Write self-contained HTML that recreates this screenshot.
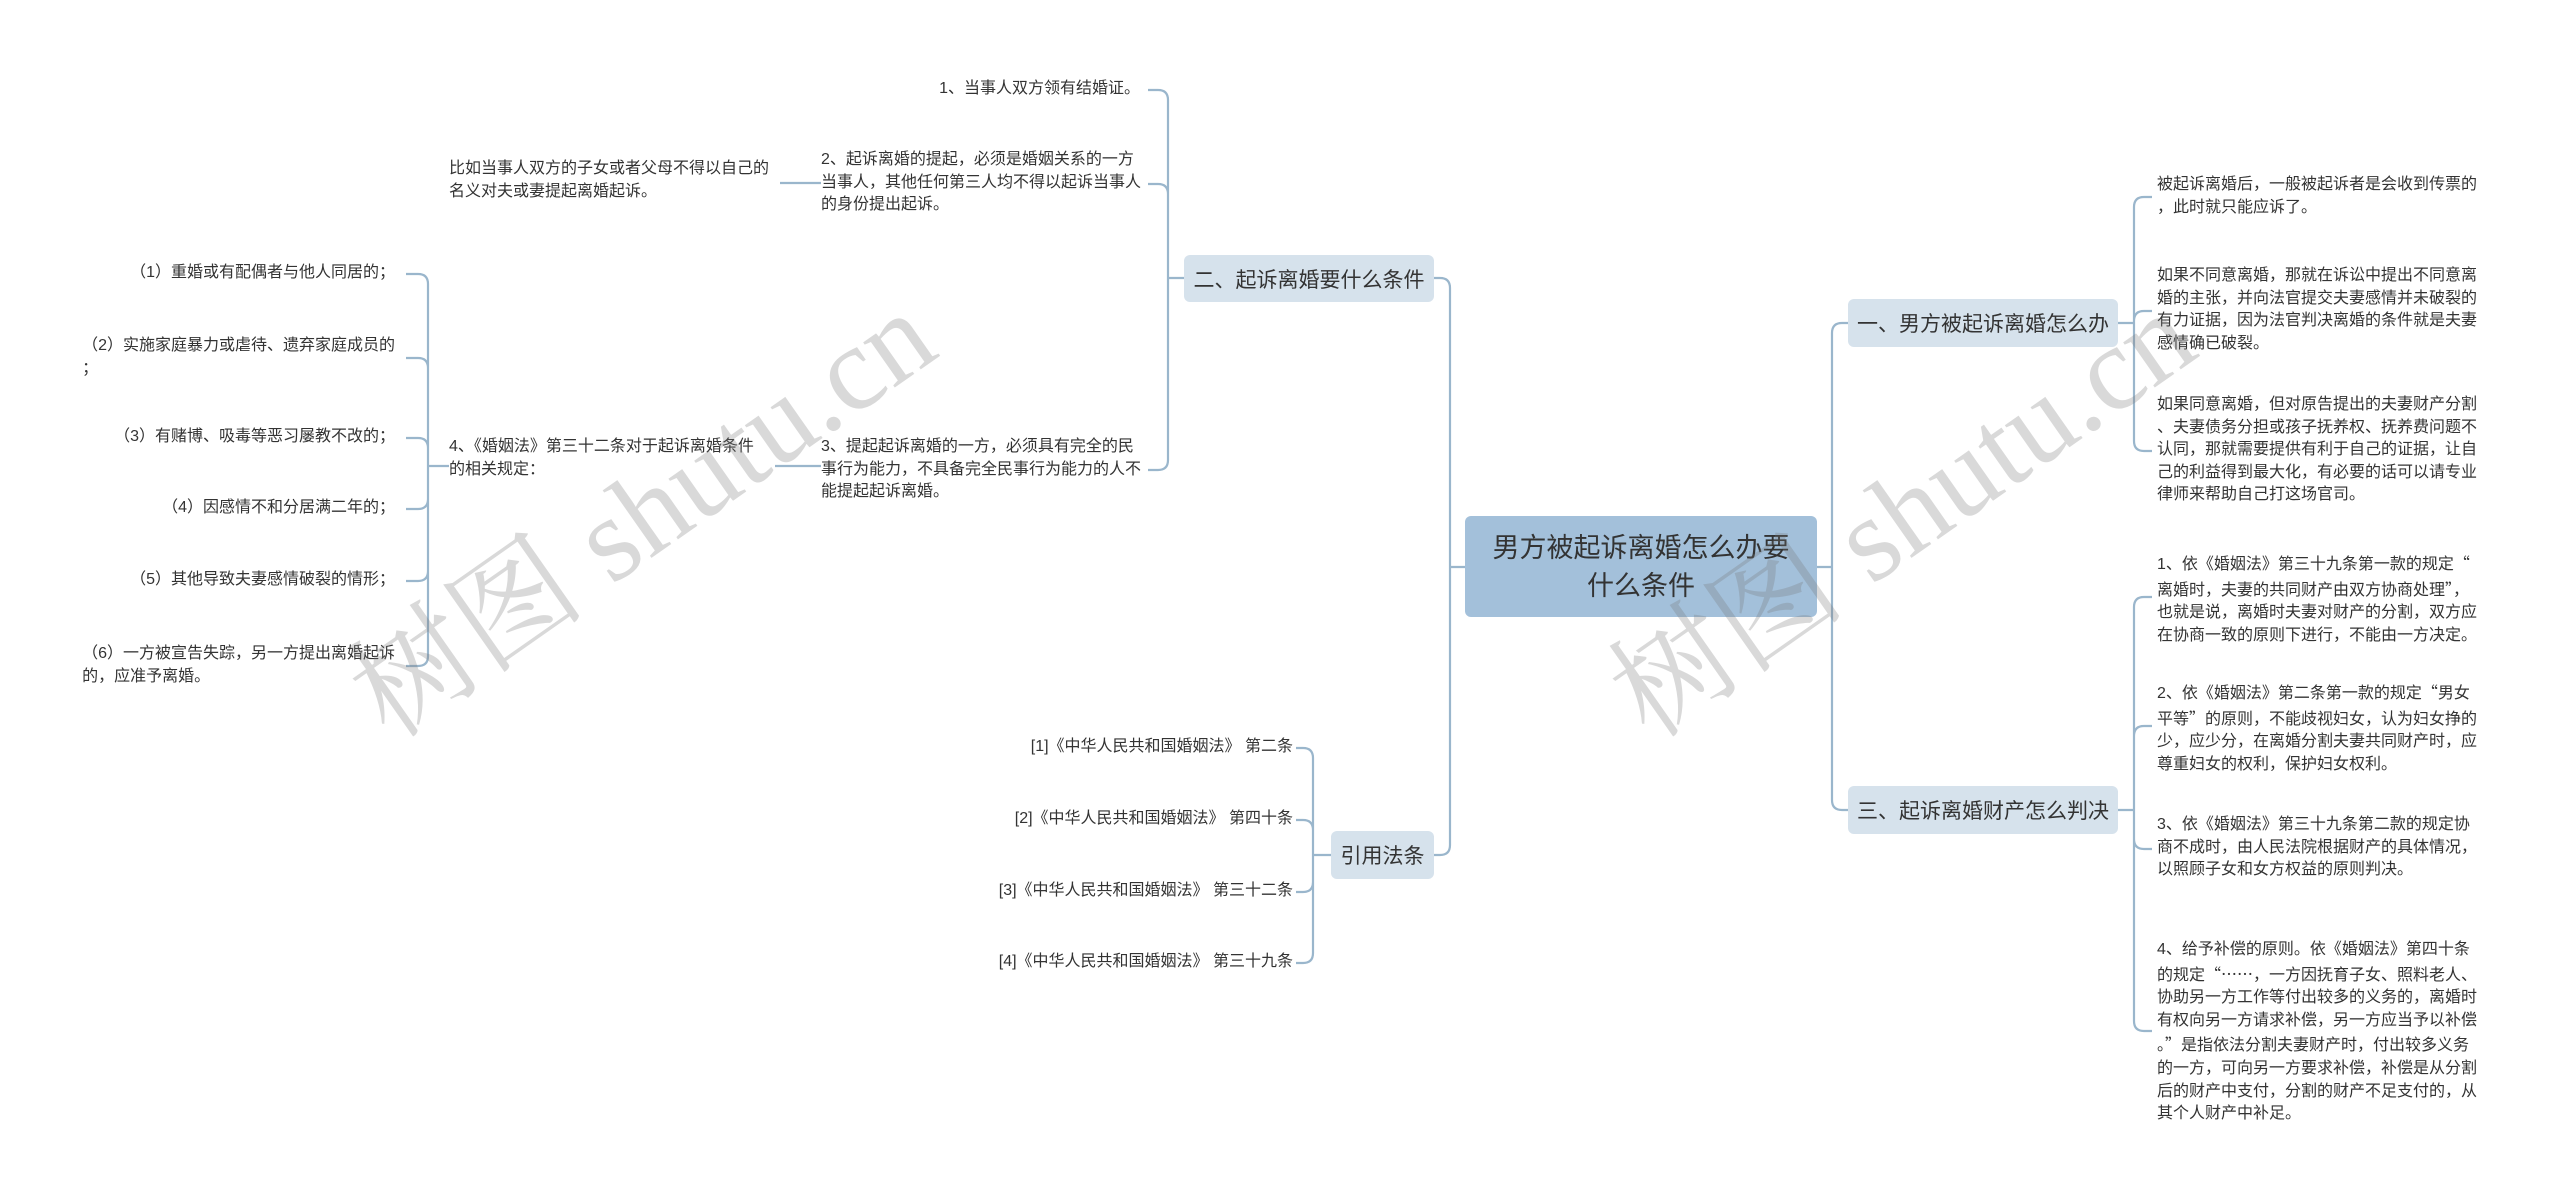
<!DOCTYPE html>
<html><head><meta charset="utf-8">
<style>
html,body{margin:0;padding:0;background:#fff;}
body{width:2560px;height:1184px;position:relative;overflow:hidden;font-family:"Liberation Sans","Noto Sans CJK SC",sans-serif;color:#333;}
.t{position:absolute;font-size:16px;line-height:22.6px;white-space:nowrap;}
.q{font-family:"Noto Sans CJK SC",sans-serif;}
.node{position:absolute;display:flex;align-items:center;justify-content:center;border-radius:6px;background:#d6e2ec;font-size:21px;color:#333;}
.center{background:#a3c0da;font-size:27px;line-height:38px;text-align:center;}
.wm{position:absolute;font-family:"Liberation Serif","Noto Serif CJK SC",serif;font-size:120px;color:rgba(120,120,120,0.28);transform:rotate(-35deg);white-space:nowrap;transform-origin:center;}
svg{position:absolute;left:0;top:0;}
</style></head><body>
<svg width="2560" height="1184" fill="none" stroke="#9ab6cc" stroke-width="2.2">
<path d="M1465,567 H1450 M1450,567 V288 Q1450,278 1440,278 H1434 M1450,567 V845 Q1450,855 1440,855 H1434"/>
<path d="M1817,567 H1832 M1832,567 V333 Q1832,323 1842,323 H1848 M1832,567 V800 Q1832,810 1842,810 H1848"/>
<path d="M1184,278 H1168 M1168,278 V100 Q1168,90 1158,90 H1148 M1168,278 V194 Q1168,184 1158,184 H1148 M1168,278 V460 Q1168,470 1158,470 H1148"/>
<path d="M821,183 H780 M821,466 H775"/>
<path d="M449,466 H428 M428,466 V284 Q428,274 418,274 H406 M428,466 V368 Q428,358 418,358 H406 M428,466 V448 Q428,438 418,438 H406 M428,466 V499 Q428,509 418,509 H406 M428,466 V571 Q428,581 418,581 H406 M428,466 V656 Q428,666 418,666 H406"/>
<path d="M1331,855 H1313 M1313,855 V758 Q1313,748 1303,748 H1296 M1313,855 V830 Q1313,820 1303,820 H1296 M1313,855 V882 Q1313,892 1303,892 H1296 M1313,855 V953 Q1313,963 1303,963 H1296"/>
<path d="M2118,323 H2134 M2134,323 V207 Q2134,197 2144,197 H2152 M2134,323 V321 Q2134,311 2144,311 H2152 M2134,323 V441 Q2134,451 2144,451 H2152"/>
<path d="M2118,810 H2134 M2134,810 V607 Q2134,597 2144,597 H2152 M2134,810 V736 Q2134,726 2144,726 H2152 M2134,810 V839 Q2134,849 2144,849 H2152 M2134,810 V1021 Q2134,1031 2144,1031 H2152"/>
</svg>

<div class="node center" style="left:1465px;top:516px;width:352px;height:101px;">男方被起诉离婚怎么办要<br>什么条件</div>
<div class="node" style="left:1184px;top:255px;width:250px;height:47px;">二、起诉离婚要什么条件</div>
<div class="node" style="left:1331px;top:831px;width:103px;height:48px;">引用法条</div>
<div class="node" style="left:1848px;top:299px;width:270px;height:48px;">一、男方被起诉离婚怎么办</div>
<div class="node" style="left:1848px;top:786px;width:270px;height:48px;">三、起诉离婚财产怎么判决</div>

<div class="t" style="right:1420px;top:78px;">1、当事人双方领有结婚证。</div>
<div class="t" style="left:821px;top:149px;">2、起诉离婚的提起，必须是婚姻关系的一方<br>当事人，其他任何第三人均不得以起诉当事人<br>的身份提出起诉。</div>
<div class="t" style="left:821px;top:436px;">3、提起起诉离婚的一方，必须具有完全的民<br>事行为能力，不具备完全民事行为能力的人不<br>能提起起诉离婚。</div>
<div class="t" style="left:449px;top:158px;">比如当事人双方的子女或者父母不得以自己的<br>名义对夫或妻提起离婚起诉。</div>
<div class="t" style="left:449px;top:436px;">4、《婚姻法》第三十二条对于起诉离婚条件<br>的相关规定：</div>

<div class="t" style="right:2165px;top:262px;">（1）重婚或有配偶者与他人同居的；</div>
<div class="t" style="right:2165px;top:335px;">（2）实施家庭暴力或虐待、遗弃家庭成员的<br>；</div>
<div class="t" style="right:2165px;top:426px;">（3）有赌博、吸毒等恶习屡教不改的；</div>
<div class="t" style="right:2165px;top:497px;">（4）因感情不和分居满二年的；</div>
<div class="t" style="right:2165px;top:569px;">（5）其他导致夫妻感情破裂的情形；</div>
<div class="t" style="right:2165px;top:643px;">（6）一方被宣告失踪，另一方提出离婚起诉<br>的，应准予离婚。</div>

<div class="t" style="right:1267px;top:736px;">[1]《中华人民共和国婚姻法》 第二条</div>
<div class="t" style="right:1267px;top:808px;">[2]《中华人民共和国婚姻法》 第四十条</div>
<div class="t" style="right:1267px;top:880px;">[3]《中华人民共和国婚姻法》 第三十二条</div>
<div class="t" style="right:1267px;top:951px;">[4]《中华人民共和国婚姻法》 第三十九条</div>

<div class="t" style="left:2157px;top:174px;">被起诉离婚后，一般被起诉者是会收到传票的<br>，此时就只能应诉了。</div>
<div class="t" style="left:2157px;top:265px;">如果不同意离婚，那就在诉讼中提出不同意离<br>婚的主张，并向法官提交夫妻感情并未破裂的<br>有力证据，因为法官判决离婚的条件就是夫妻<br>感情确已破裂。</div>
<div class="t" style="left:2157px;top:394px;">如果同意离婚，但对原告提出的夫妻财产分割<br>、夫妻债务分担或孩子抚养权、抚养费问题不<br>认同，那就需要提供有利于自己的证据，让自<br>己的利益得到最大化，有必要的话可以请专业<br>律师来帮助自己打这场官司。</div>
<div class="t" style="left:2157px;top:551px;">1、依《婚姻法》第三十九条第一款的规定<span class="q">“</span><br>离婚时，夫妻的共同财产由双方协商处理<span class="q">”</span>，<br>也就是说，离婚时夫妻对财产的分割，双方应<br>在协商一致的原则下进行，不能由一方决定。</div>
<div class="t" style="left:2157px;top:680px;">2、依《婚姻法》第二条第一款的规定<span class="q">“</span>男女<br>平等<span class="q">”</span>的原则，不能歧视妇女，认为妇女挣的<br>少，应少分，在离婚分割夫妻共同财产时，应<br>尊重妇女的权利，保护妇女权利。</div>
<div class="t" style="left:2157px;top:814px;">3、依《婚姻法》第三十九条第二款的规定协<br>商不成时，由人民法院根据财产的具体情况，<br>以照顾子女和女方权益的原则判决。</div>
<div class="t" style="left:2157px;top:939px;">4、给予补偿的原则。依《婚姻法》第四十条<br>的规定<span class="q">“……</span>，一方因抚育子女、照料老人、<br>协助另一方工作等付出较多的义务的，离婚时<br>有权向另一方请求补偿，另一方应当予以补偿<br>。<span class="q">”</span>是指依法分割夫妻财产时，付出较多义务<br>的一方，可向另一方要求补偿，补偿是从分割<br>后的财产中支付，分割的财产不足支付的，从<br>其个人财产中补足。</div>

<div class="wm" style="left:300px;top:420px;">树图 shutu.cn</div>
<div class="wm" style="left:1560px;top:420px;">树图 shutu.cn</div>
</body></html>
